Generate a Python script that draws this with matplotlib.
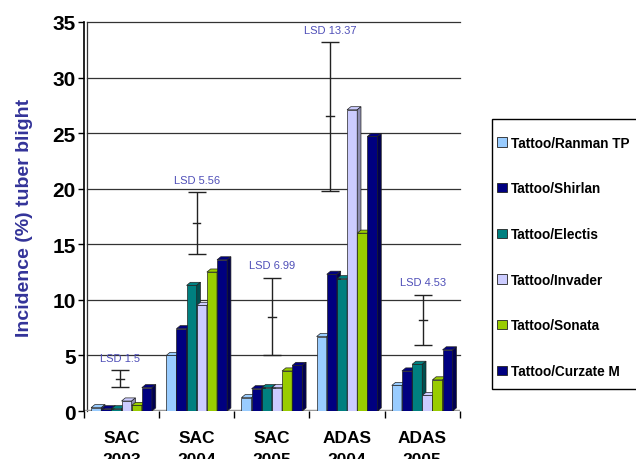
import matplotlib
matplotlib.use("Agg")
import matplotlib.pyplot as plt
from matplotlib.patches import Polygon, Rectangle, Patch
import numpy as np

plt.rcParams['font.family'] = ['Liberation Sans', 'DejaVu Sans']

categories = ["SAC\n2003", "SAC\n2004", "SAC\n2005", "ADAS\n2004", "ADAS\n2005"]
series_names = ["Tattoo/Ranman TP", "Tattoo/Shirlan", "Tattoo/Electis",
                "Tattoo/Invader", "Tattoo/Sonata", "Tattoo/Curzate M"]
ranman = [0.3, 5.0, 1.2, 6.7, 2.3]
shirlan = [0.2, 7.4, 2.0, 12.3, 3.6]
electis = [0.2, 11.3, 2.1, 11.9, 4.2]
invader = [0.9, 9.5, 2.1, 27.1, 1.4]
sonata = [0.5, 12.5, 3.6, 16.0, 2.8]
curzate = [2.1, 13.6, 4.1, 24.7, 5.5]
series = [ranman, shirlan, electis, invader, sonata, curzate]
colors = ["#99CCFF", "#000080", "#008080", "#CCCCFF", "#99CC00", "#000080"]
side_colors = ["#6A8EB2", "#000050", "#005050", "#8E8EB2", "#6B8E00", "#000050"]

lsd_labels = ["LSD 1.5", "LSD 5.56", "LSD 6.99", "LSD 13.37", "LSD 4.53"]
lsd_center = [2.9, 16.9, 8.5, 26.5, 8.2]
lsd_half = [0.75, 2.78, 3.5, 6.69, 2.27]
lsd_xoff = [-0.02, 0.0, 0.0, -0.23, 0.01]

fig = plt.figure(figsize=(6.36, 4.6), dpi=100)
ax = fig.add_axes([0.132, 0.1043, 0.591, 0.8457])

ax.set_xlim(-0.5, 4.5)
ax.set_ylim(0, 35)

x = np.arange(len(categories))
n = len(series)
bw = 0.135
dx = 0.05
dy = 0.28

ax.set_yticks(np.arange(0, 36, 5))
for yv in np.arange(5, 36, 5):
    ax.plot([-0.46, 4.5], [yv, yv], color="#333333", lw=0.9, zorder=0.5, clip_on=False)

for i, (vals, c, sc) in enumerate(zip(series, colors, side_colors)):
    pos = x - n * bw / 2 + bw * (i + 0.5)
    ax.bar(pos, vals, width=bw, color=c, edgecolor="#222222", linewidth=0.5, zorder=2)
    for p, v in zip(pos, vals):
        l, r = p - bw / 2, p + bw / 2
        top = Polygon([[l, v], [l + dx, v + dy], [r + dx, v + dy], [r, v]],
                      closed=True, facecolor=c, edgecolor="#222222", lw=0.5, zorder=2)
        side = Polygon([[r, 0], [r + dx, dy], [r + dx, v + dy], [r, v]],
                       closed=True, facecolor=sc, edgecolor="#222222", lw=0.5, zorder=2)
        ax.add_patch(top)
        ax.add_patch(side)

# floor
ax.axhline(0, color="#999999", lw=2.5, zorder=1)

# LSD error bars
for xi, c, h, lab, off in zip(x, lsd_center, lsd_half, lsd_labels, lsd_xoff):
    ax.errorbar(xi + off, c, yerr=h, fmt='none', ecolor="#222222", elinewidth=1,
                capsize=6.5, capthick=1, zorder=3)
    ax.plot([xi + off - 0.05, xi + off + 0.05], [c, c], color="#222222", lw=1, zorder=3)
    ax.text(xi + off, c + h + 1.1, lab, ha='center', va='center', fontsize=8,
            color="#4F4FB8", zorder=3)

ax.set_xticks(x)
ax.set_xticklabels(categories, fontsize=12.5, fontweight='bold', linespacing=1.55)
ax.set_xticks(np.arange(-0.5, 4.6, 1), minor=True)
ax.tick_params(axis='x', which='major', length=0, pad=14)
ax.tick_params(axis='x', which='minor', length=5, direction='out', width=1)
ax.tick_params(axis='y', labelsize=15, length=4, width=1, direction='out', pad=2)
for t in ax.get_yticklabels():
    t.set_fontweight('bold')

for s in ['top', 'right', 'bottom']:
    ax.spines[s].set_visible(False)
ax.spines['left'].set_linewidth(1.2)
ax.plot([-0.46, -0.46], [0, 35], color="#333333", lw=0.9, zorder=0.5, clip_on=False)

ax.set_ylabel("Incidence (%) tuber blight", fontsize=14, fontweight='bold',
              color="#333399", labelpad=14)

# legend
fig.patches.append(Rectangle((0.774, 0.152), 0.25, 0.587, transform=fig.transFigure,
                             facecolor='white', edgecolor='black', lw=1, zorder=0))
handles = [Patch(facecolor=c, edgecolor='#222222', lw=0.6) for c in colors]
leg = fig.legend(handles, series_names, loc='upper left', bbox_to_anchor=(0.782, 0.703),
                 frameon=False, prop={'size': 9.8, 'weight': 'bold'},
                 handlelength=0.7, handleheight=0.7, handletextpad=0.3,
                 labelspacing=2.33, borderaxespad=0, borderpad=0)

fig.savefig("out.png", dpi=100)
